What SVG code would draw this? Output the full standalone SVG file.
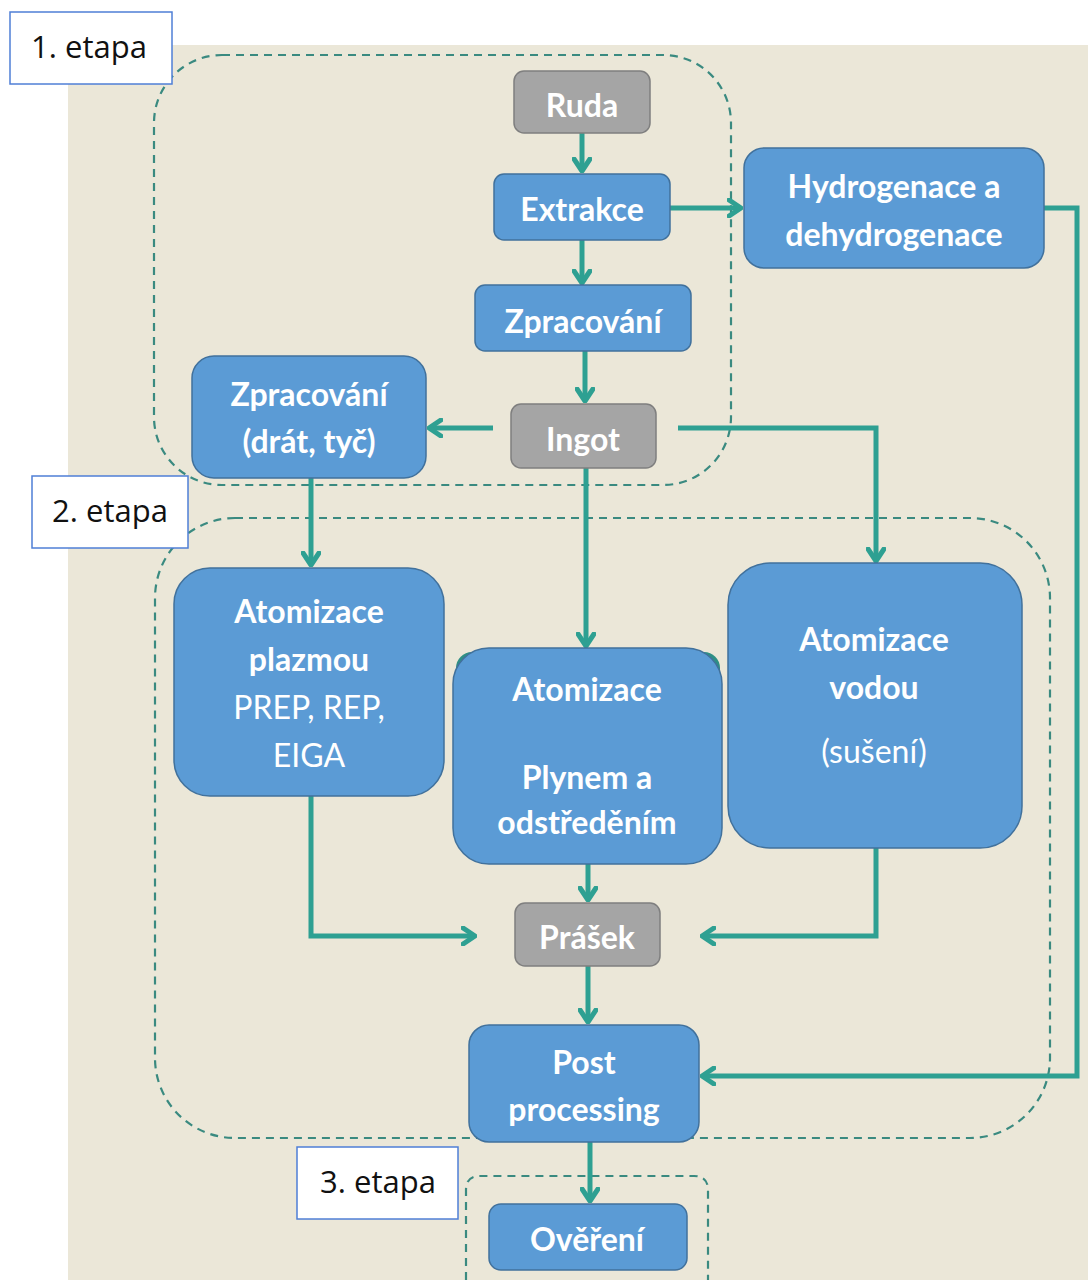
<svg xmlns="http://www.w3.org/2000/svg" width="1088" height="1280" viewBox="0 0 1088 1280">
<defs>
<marker id="arr" viewBox="0 0 16 20" refX="14" refY="10" markerWidth="16" markerHeight="20" markerUnits="userSpaceOnUse" orient="auto">
<path d="M2,2 L14,10 L2,18" fill="none" stroke="#2ea092" stroke-width="5" stroke-linecap="round" stroke-linejoin="round"/>
</marker>
</defs>
<style>
.blue{fill:#5b9bd5;stroke:#41719c;stroke-width:1.5}
.gray{fill:#a5a5a5;stroke:#7f7f7f;stroke-width:1.5}
.lbl{fill:#ffffff;stroke:#4f7fd6;stroke-width:1.5}
.dash{fill:none;stroke:#3a8a80;stroke-width:2.2;stroke-dasharray:8 6}
.t{font-family:Lato,"Open Sans","Liberation Sans",sans-serif;font-size:32px;fill:#ffffff;text-anchor:middle;font-weight:bold}
.n{font-weight:normal}
.e{font-family:"Open Sans","Liberation Sans",sans-serif;font-size:31px;fill:#111111;text-anchor:middle}
.c{fill:none;stroke:#2ea092;stroke-width:5;marker-end:url(#arr)}
</style>
<rect x="68" y="45" width="1020" height="1235" fill="#ebe7d8"/>
<g id="stages">
<rect class="dash" x="154" y="55" width="577" height="430" rx="68"/>
<rect class="dash" x="155" y="518" width="895" height="620" rx="80"/>
<path class="dash" d="M466,1280 V1190 Q466,1176 480,1176 H694 Q708,1176 708,1190 V1280"/>
</g>
<g id="connectors">
<path class="c" d="M582,133 V171"/>
<path class="c" d="M582,240 V283"/>
<path class="c" d="M670,208 H741"/>
<path class="c" d="M585,351 V401"/>
<path class="c" d="M493,428 H429"/>
<path class="c" d="M678,428 H876 V561"/>
<path class="c" d="M586,468 V646"/>
<path class="c" d="M311,478 V565"/>
<path class="c" d="M1044,208 H1077 V1076 H702"/>
<path class="c" d="M311,796 V936 H475"/>
<path class="c" d="M876,848 V936 H702"/>
<path class="c" d="M588,864 V900"/>
<path class="c" d="M588,966 V1022"/>
<path class="c" d="M590,1142 V1201"/>
</g>
<g id="label1"><rect class="lbl" x="10" y="12" width="162" height="72"/><text class="e" x="89" y="58">1. etapa</text></g>
<g id="label2"><rect class="lbl" x="32" y="476" width="156" height="72"/><text class="e" x="110" y="522">2. etapa</text></g>
<g id="label3"><rect class="lbl" x="297" y="1147" width="161" height="72"/><text class="e" x="378" y="1193">3. etapa</text></g>
<g id="ruda"><rect class="gray" x="514" y="71" width="136" height="62" rx="10"/><text class="t" x="582" y="117">Ruda</text></g>
<g id="extrakce"><rect class="blue" x="494" y="174" width="176" height="66" rx="10"/><text class="t" x="582" y="221">Extrakce</text></g>
<g id="hydrogenace"><rect class="blue" x="744" y="148" width="300" height="120" rx="20"/><text class="t" x="894" y="198">Hydrogenace a</text><text class="t" x="894" y="246">dehydrogenace</text></g>
<g id="zpracovani"><rect class="blue" x="475" y="285" width="216" height="66" rx="10"/><text class="t" x="583" y="333">Zpracování</text></g>
<g id="zpracovani2"><rect class="blue" x="192" y="356" width="234" height="122" rx="22"/><text class="t" x="309" y="406">Zpracování</text><text class="t" x="309" y="453">(drát, tyč)</text></g>
<g id="ingot"><rect class="gray" x="511" y="404" width="145" height="64" rx="10"/><text class="t" x="583" y="451">Ingot</text></g>
<g id="plazma"><rect class="blue" x="174" y="568" width="270" height="228" rx="36"/><text class="t" x="309" y="623">Atomizace</text><text class="t" x="309" y="671">plazmou</text><text class="t n" x="309" y="719">PREP, REP,</text><text class="t n" x="309" y="767">EIGA</text></g>
<g id="plyn"><rect x="456" y="652" width="264" height="60" rx="16" fill="#2e8f85"/><rect class="blue" x="453" y="648" width="269" height="216" rx="36"/><text class="t" x="587" y="701">Atomizace</text><text class="t" x="587" y="789">Plynem a</text><text class="t" x="587" y="834">odstředěním</text></g>
<g id="voda"><rect class="blue" x="728" y="563" width="294" height="285" rx="42"/><text class="t" x="874" y="651">Atomizace</text><text class="t" x="874" y="699">vodou</text><text class="t n" x="874" y="763">(sušení)</text></g>
<g id="prasek"><rect class="gray" x="515" y="903" width="145" height="63" rx="10"/><text class="t" x="587" y="949">Prášek</text></g>
<g id="post"><rect class="blue" x="469" y="1025" width="230" height="117" rx="20"/><text class="t" x="584" y="1074">Post</text><text class="t" x="584" y="1121">processing</text></g>
<g id="overeni"><rect class="blue" x="489" y="1204" width="198" height="66" rx="12"/><text class="t" x="587" y="1251">Ověření</text></g>
</svg>
